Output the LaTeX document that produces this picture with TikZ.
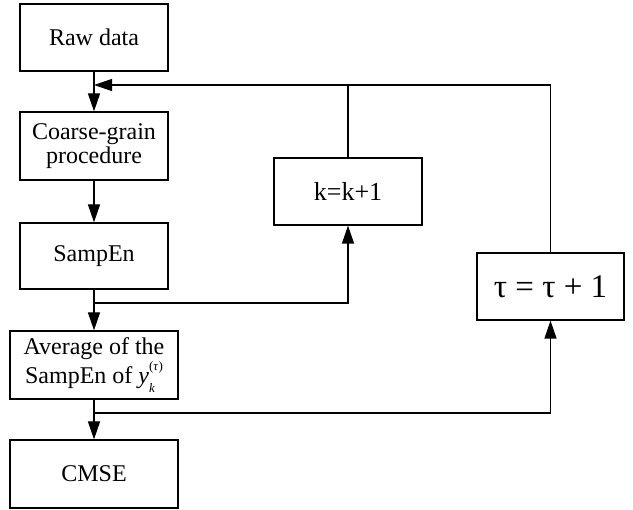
\documentclass[tikz,border=0pt]{standalone}
\usepackage{fontspec}
\setmainfont{Liberation Serif}
\usetikzlibrary{arrows.meta}
\begin{document}
\begin{tikzpicture}[x=1pt,y=1pt,
  box/.style={draw,line width=1.2pt,minimum width=148pt,minimum height=67pt,inner sep=2pt,font=\fontsize{24}{26}\selectfont,align=center},
  wide/.style={box,minimum width=168pt},
  arr/.style={line width=1.2pt,-{Triangle[length=18pt,width=12pt]}},
  ln/.style={line width=1.2pt}]
\useasboundingbox (0,0) rectangle (633,-510);
\node[box] (raw) at (94,-37.5) {Raw data};
\node[box,minimum height=68pt] (coarse) at (94,-146) {Coarse-grain\\[-2pt]procedure};
\node[box,minimum height=66pt] (samp) at (94,-256) {SampEn};
\node[wide,minimum height=68pt] (avg) at (94,-365) {Average of the\\[1pt]SampEn of \textit{y}\rlap{\raisebox{-0.35em}{\fontsize{13}{13}\selectfont\textit{k}}}\raisebox{0.55em}{\fontsize{13}{13}\selectfont(\textit{τ})}};
\node[wide,minimum height=68pt] (cmse) at (94,-474) {CMSE};
\node[box,font=\fontsize{26}{28}\selectfont] (k) at (348,-191.5) {k=k+1};
\node[box,minimum width=147pt,font=\fontsize{33}{35}\selectfont] (tau) at (550.5,-286.5) {τ = τ + 1};
\coordinate (top) at (94,-85);
\coordinate (j1) at (94,-303);
\coordinate (j2) at (94,-413);
\draw[arr] (raw.south) -- (coarse.north);
\draw[arr] (coarse.south) -- (samp.north);
\draw[arr] (samp.south) -- (avg.north);
\draw[arr] (avg.south) -- (cmse.north);
\draw[arr] (tau.north) |- (top);
\draw[ln] (k.north) -- (k.north |- top);
\draw[arr] (j1) -| (k.south);
\draw[arr] (j2) -| (tau.south);
\end{tikzpicture}
\end{document}
